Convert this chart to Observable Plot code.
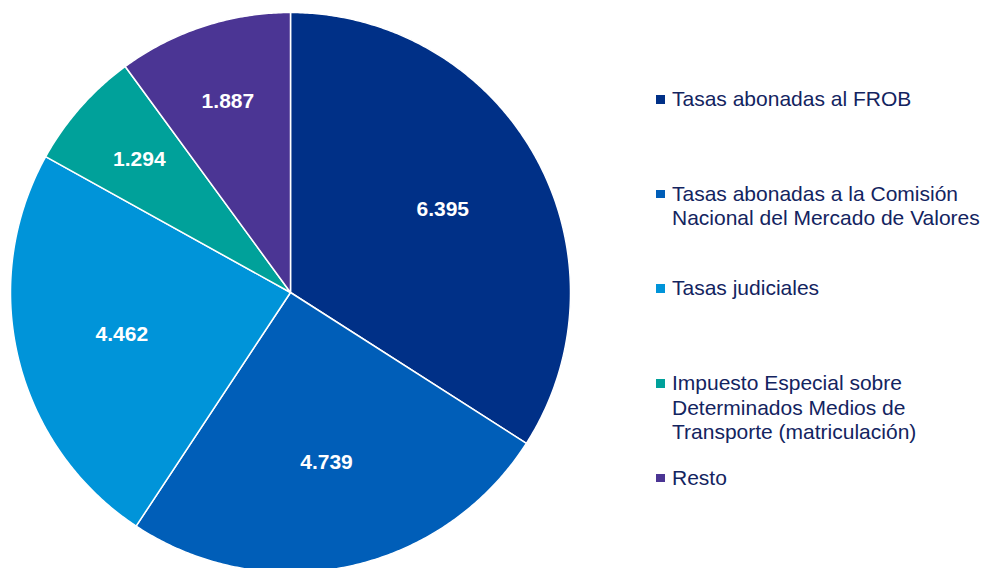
<!DOCTYPE html>
<html>
<head>
<meta charset="utf-8">
<script src="https://cdn.jsdelivr.net/npm/d3@7"></script>
<script src="https://cdn.jsdelivr.net/npm/@observablehq/plot@0.6"></script>
<style>
  html, body { margin: 0; padding: 0; background: #fff; }
  #wrap { position: relative; width: 992px; height: 568px; overflow: hidden; font-family: "Liberation Sans", Arial, sans-serif; }
  #legend { position: absolute; left: 655px; top: 87px; color: #13245f; font-size: 21px; line-height: 24.5px; white-space: nowrap; }
  .item { position: relative; height: 94.7px; padding-left: 17px; }
  .sw { position: absolute; left: 1px; top: 8px; width: 8.5px; height: 8.5px; }
</style>
</head>
<body>
<div id="wrap"><div id="legend"></div></div>
<script>
const categories = [
  "Tasas abonadas al FROB",
  "Tasas abonadas a la Comisión Nacional del Mercado de Valores",
  "Tasas judiciales",
  "Impuesto Especial sobre Determinados Medios de Transporte (matriculación)",
  "Resto"
];
const legendLines = [
  ["Tasas abonadas al FROB"],
  ["Tasas abonadas a la Comisión", "Nacional del Mercado de Valores"],
  ["Tasas judiciales"],
  ["Impuesto Especial sobre", "Determinados Medios de", "Transporte (matriculación)"],
  ["Resto"]
];
const values = [6395, 4739, 4462, 1294, 1887];
const valueLabels = ["6.395", "4.739", "4.462", "1.294", "1.887"];
const colors = ["#003087", "#005eb8", "#0094d9", "#00a19a", "#4b3594"];

const data = categories.map((name, i) => ({name, value: values[i], label: valueLabels[i]}));
const arcs = d3.pie().sort(null).value(d => d.value)(data);

// slice outlines in unit-circle coordinates
const pts = [];
for (const a of arcs) {
  const name = a.data.name;
  pts.push({name, x: 0, y: 0});
  const n = Math.max(2, Math.ceil((a.endAngle - a.startAngle) / (Math.PI / 360)));
  for (let k = 0; k <= n; k++) {
    const t = a.startAngle + (a.endAngle - a.startAngle) * k / n;
    pts.push({name, x: Math.sin(t), y: Math.cos(t)});
  }
  pts.push({name, x: 0, y: 0});
}
const labelPts = arcs.map(a => {
  const m = (a.startAngle + a.endAngle) / 2;
  const r = (a.endAngle - a.startAngle) > Math.PI / 3 ? 0.62 : 0.72;
  return {x: r * Math.sin(m), y: r * Math.cos(m), label: a.data.label};
});

const chart = Plot.plot({
  width: 992,
  height: 568,
  margin: 0,
  x: {domain: [-1, 1], range: [10, 570], axis: null},
  y: {domain: [-1, 1], range: [572, 12], axis: null},
  color: {domain: categories, range: colors},
  style: {background: "white", fontFamily: "'Liberation Sans', Arial, sans-serif"},
  marks: [
    Plot.line(pts, {x: "x", y: "y", z: "name", fill: "name", stroke: "white", strokeWidth: 1.5, curve: "linear", strokeLinejoin: "round"}),
    Plot.text(labelPts, {x: "x", y: "y", text: "label", fill: "white", fontWeight: "bold", fontSize: 21, letterSpacing: "-0.6px"})
  ]
});
const wrap = document.getElementById("wrap");
wrap.insertBefore(chart, wrap.firstChild);

const legend = document.getElementById("legend");
legendLines.forEach((lines, i) => {
  const it = document.createElement("div");
  it.className = "item";
  const sw = document.createElement("span");
  sw.className = "sw";
  sw.style.background = colors[i];
  it.appendChild(sw);
  lines.forEach(l => {
    const d = document.createElement("div");
    d.textContent = l;
    it.appendChild(d);
  });
  legend.appendChild(it);
});
</script>
</body>
</html>
